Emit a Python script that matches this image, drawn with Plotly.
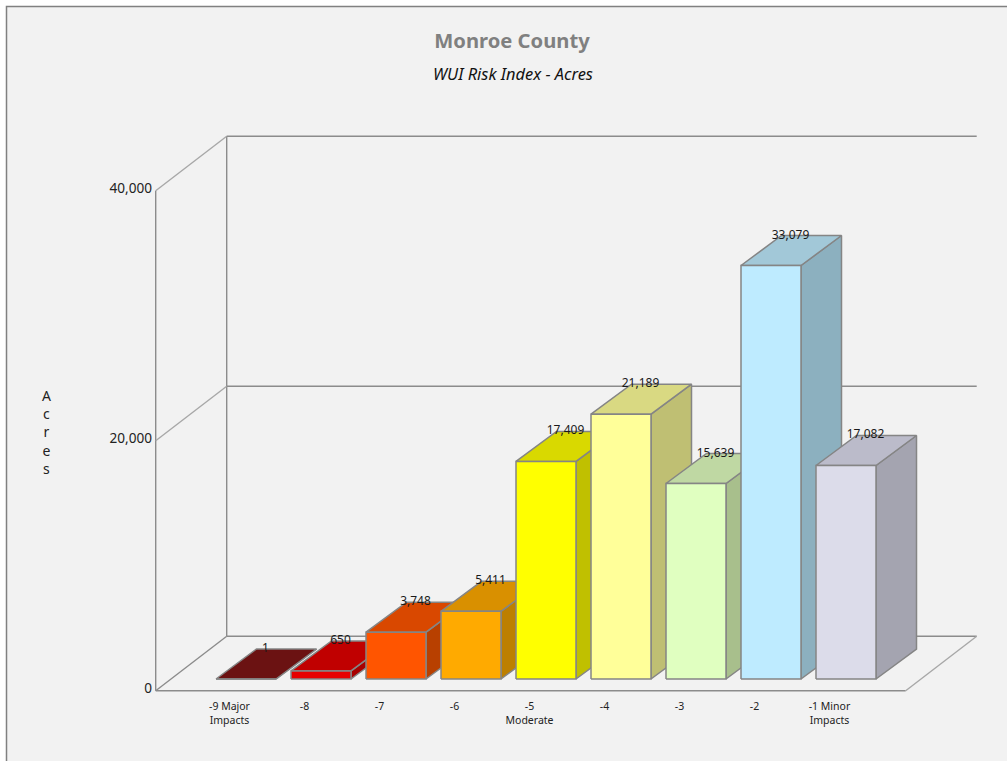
import plotly.graph_objects as go

# ---- data ----
categories = ["-9 Major<br>Impacts", "-8", "-7", "-6", "-5<br>Moderate", "-4", "-3", "-2", "-1 Minor<br>Impacts"]
values = [1, 650, 3748, 5411, 17409, 21189, 15639, 33079, 17082]
y_ticks = [0, 20000, 40000]

# ---- styles ----
front_colors = ["#6b1212", "#e60000", "#ff5500", "#ffaa00", "#ffff00", "#ffff99", "#e0ffc0", "#beebff", "#dcdcea"]
top_colors = ["#6b1212", "#c00000", "#d94800", "#d99000", "#d9d900", "#d9d982", "#bfd8a3", "#a2c8d8", "#bbbbca"]
side_colors = ["#5a0f0f", "#a80000", "#b84000", "#bd7f00", "#c0c000", "#bfbf73", "#a8bf8c", "#8cb0bf", "#a4a4b0"]
EDGE = "#858585"
WALL = "#8c8c8c"
WALL_LIGHT = "#a8a8a8"
FONT = "Noto Sans"

W, H = 1007, 761
PX_PER_CAT = 75.0
PX_PER_ACRE = 0.0125
FIRST_CENTER_PX = 246.0
BAR_BASE_PX = 679.0
FLOOR_FRONT_PX = 690.7
WALL_LEFT_PX = 155.7
WALL_RIGHT_PX = 905.7

bar_w = 60 / PX_PER_CAT
bar_dx = 40.5 / PX_PER_CAT
bar_dy = 30 / PX_PER_ACRE
wall_dx = 71 / PX_PER_CAT
wall_dy = 54.5 / PX_PER_ACRE
wall_left = (WALL_LEFT_PX - FIRST_CENTER_PX) / PX_PER_CAT
wall_right = (WALL_RIGHT_PX - FIRST_CENTER_PX) / PX_PER_CAT
label_shift = 16.5 / PX_PER_CAT
value_label_dx = 19.5 / PX_PER_CAT

fig = go.Figure()


def line(xs, ys, color=WALL):
    fig.add_trace(go.Scatter(x=xs, y=ys, mode="lines", line=dict(color=color, width=1.4),
                             hoverinfo="skip", showlegend=False, xaxis="x", yaxis="y"))


# walls and floor, on the axis scale that carries the tick labels
top = y_ticks[-1]
line([wall_left, wall_left], [0, top])
line([wall_left + wall_dx, wall_left + wall_dx], [wall_dy, top + wall_dy])
for t in y_ticks:
    line([wall_left, wall_left + wall_dx], [t, t + wall_dy], WALL_LIGHT if t else WALL)
    line([wall_left + wall_dx, wall_right + wall_dx], [t + wall_dy, t + wall_dy])
line([wall_left, wall_right], [0, 0])
line([wall_right, wall_right + wall_dx], [0, wall_dy], WALL_LIGHT)


def face(xs, ys, color):
    fig.add_trace(go.Scatter(x=xs, y=ys, mode="lines", fill="toself", fillcolor=color,
                             line=dict(color=EDGE, width=1.5), hoverinfo="skip",
                             showlegend=False, xaxis="x", yaxis="y2"))


# bars, painted left to right
for i, v in enumerate(values):
    l, r = i - bar_w / 2, i + bar_w / 2
    face([r, r + bar_dx, r + bar_dx, r, r], [0, bar_dy, v + bar_dy, v, 0], side_colors[i])
    face([l, r, r + bar_dx, l + bar_dx, l], [v, v, v + bar_dy, v + bar_dy, v], top_colors[i])
    face([l, r, r, l, l], [0, 0, v, v, 0], front_colors[i])

fig.add_trace(go.Scatter(
    x=[i + value_label_dx for i in range(len(values))],
    y=[v + bar_dy for v in values],
    text=[f"{v:,}" for v in values],
    mode="text", textposition="middle center",
    textfont=dict(family=FONT, size=12, color="#1a1a1a"),
    hoverinfo="skip", showlegend=False, xaxis="x", yaxis="y2",
))

fig.update_layout(
    width=W, height=H,
    margin=dict(l=0, r=0, t=0, b=0),
    paper_bgcolor="white",
    plot_bgcolor="rgba(0,0,0,0)",
    showlegend=False,
    font=dict(family=FONT, color="#222222"),
    xaxis=dict(
        domain=[0, 1],
        range=[-FIRST_CENTER_PX / PX_PER_CAT, (W - FIRST_CENTER_PX) / PX_PER_CAT],
        tickmode="array",
        tickvals=[i - label_shift for i in range(len(categories))],
        ticktext=categories,
        tickangle=0,
        tickfont=dict(family=FONT, size=10.5, color="#222222"),
        ticks="outside", ticklen=6, tickcolor="rgba(0,0,0,0)",
        showgrid=False, zeroline=False, showline=False,
        anchor="free", position=(H - FLOOR_FRONT_PX) / H,
    ),
    yaxis=dict(
        domain=[0, 1],
        range=[(FLOOR_FRONT_PX - H) / PX_PER_ACRE, FLOOR_FRONT_PX / PX_PER_ACRE],
        tickmode="array", tickvals=y_ticks, tickformat=",",
        tickfont=dict(family=FONT, size=13.6, color="#222222"),
        ticks="outside", ticklen=1, tickcolor="rgba(0,0,0,0)",
        ticklabelshift=-2,
        showgrid=False, zeroline=False, showline=False,
        anchor="free", position=WALL_LEFT_PX / W,
    ),
    yaxis2=dict(
        domain=[0, 1],
        range=[(BAR_BASE_PX - H) / PX_PER_ACRE, BAR_BASE_PX / PX_PER_ACRE],
        overlaying="y", visible=False,
    ),
    title=dict(
        text="<b>Monroe County</b>", x=512 / W, xanchor="center", y=1 - 41 / H, yanchor="middle",
        font=dict(family=FONT, size=20.2, color="#808080"),
    ),
    annotations=[
        dict(text="<i>WUI Risk Index - Acres</i>", xref="paper", yref="paper", x=512.5 / W, y=1 - 73.5 / H,
             xanchor="center", yanchor="middle", showarrow=False,
             font=dict(family=FONT, size=16.4, color="#111111")),
        dict(text="A<br>c<br>r<br>e<br>s", xref="paper", yref="paper", x=46 / W, y=1 - 432 / H,
             xanchor="center", yanchor="middle", showarrow=False,
             font=dict(family=FONT, size=14, color="#222222")),
    ],
    shapes=[
        dict(type="rect", xref="paper", yref="paper", x0=6.5 / W, x1=1.01, y0=-0.01, y1=1 - 6.5 / H,
             fillcolor="#f2f2f2", line=dict(color="#808080", width=1.5), layer="below"),
    ],
)

fig.write_html(
    "out.html",
    config={"displayModeBar": False},
    post_script="document.body.style.margin='0';document.body.style.overflow='hidden';",
)
